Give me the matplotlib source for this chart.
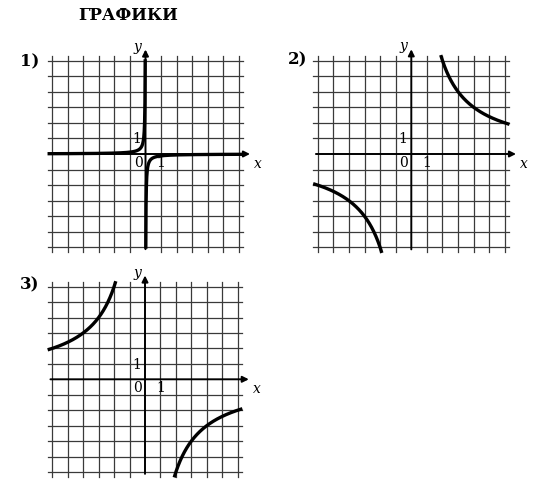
import numpy as np
import matplotlib
matplotlib.use("Agg")
import matplotlib.pyplot as plt

title = "ГРАФИКИ"
panel_labels = ["1)", "2)", "3)"]
k_values = [-0.12, 12.0, -12.0]   # y = k / x
grid_ticks = list(range(-6, 7))
# panel centres (px) and scales (px/unit)
centres = [(145.5, 154.0), (411.3, 154.0), (145.0, 379.3)]
scales = [15.55, 15.58, 15.45]

W, H = 546, 490
fig = plt.figure(figsize=(W / 100, H / 100), dpi=100)
serif = "DejaVu Serif"

XL, XR, YB, YT = -6.6, 7.4, -6.6, 7.4
for i, ((cx, cy), s) in enumerate(zip(centres, scales)):
    left = cx + XL * s
    width = (XR - XL) * s
    top = cy - YT * s
    height = (YT - YB) * s
    ax = fig.add_axes([left / W, (H - top - height) / H, width / W, height / H])
    ax.set_xlim(XL, XR)
    ax.set_ylim(YB, YT)
    ax.axis("off")
    for t in grid_ticks:
        if t != 0:
            ax.plot([t, t], [-6.3, 6.3], color="#3a3a3a", lw=0.9)
            ax.plot([-6.3, 6.3], [t, t], color="#3a3a3a", lw=0.9)
    ax.annotate("", xy=(6.9, 0), xytext=(-6.3, 0),
                arrowprops=dict(arrowstyle="-|>", color="black", lw=1.4, mutation_scale=9))
    ax.annotate("", xy=(0, 6.9), xytext=(0, -6.3),
                arrowprops=dict(arrowstyle="-|>", color="black", lw=1.4, mutation_scale=9))
    ax.text(7.0, -0.2, "x", fontsize=10, family=serif, style="italic", ha="left", va="top")
    ax.text(-0.25, 6.9, "y", fontsize=10, family=serif, style="italic", ha="right", va="center")
    ax.text(-0.25, 0.95, "1", fontsize=10, family=serif, ha="right", va="center")
    ax.text(-0.2, -0.1, "0", fontsize=10, family=serif, ha="right", va="top")
    ax.text(1.0, -0.1, "1", fontsize=10, family=serif, ha="center", va="top")
    k = k_values[i]
    for sign in (-1, 1):
        x = sign * np.linspace(0.005, 6.3, 3000)
        y = k / x
        m = np.abs(y) <= 6.35
        ax.plot(x[m], y[m], color="black", lw=2.4, solid_capstyle="butt")

fig.text(78 / W, 1 - 16 / H, title, fontsize=12, weight="bold", family=serif, va="center")
for (px, py), lab in zip([(20, 62), (288, 60), (20, 285)], panel_labels):
    fig.text(px / W, 1 - py / H, lab, fontsize=12, weight="bold", family=serif, va="center")

fig.savefig("out.png", dpi=100)
